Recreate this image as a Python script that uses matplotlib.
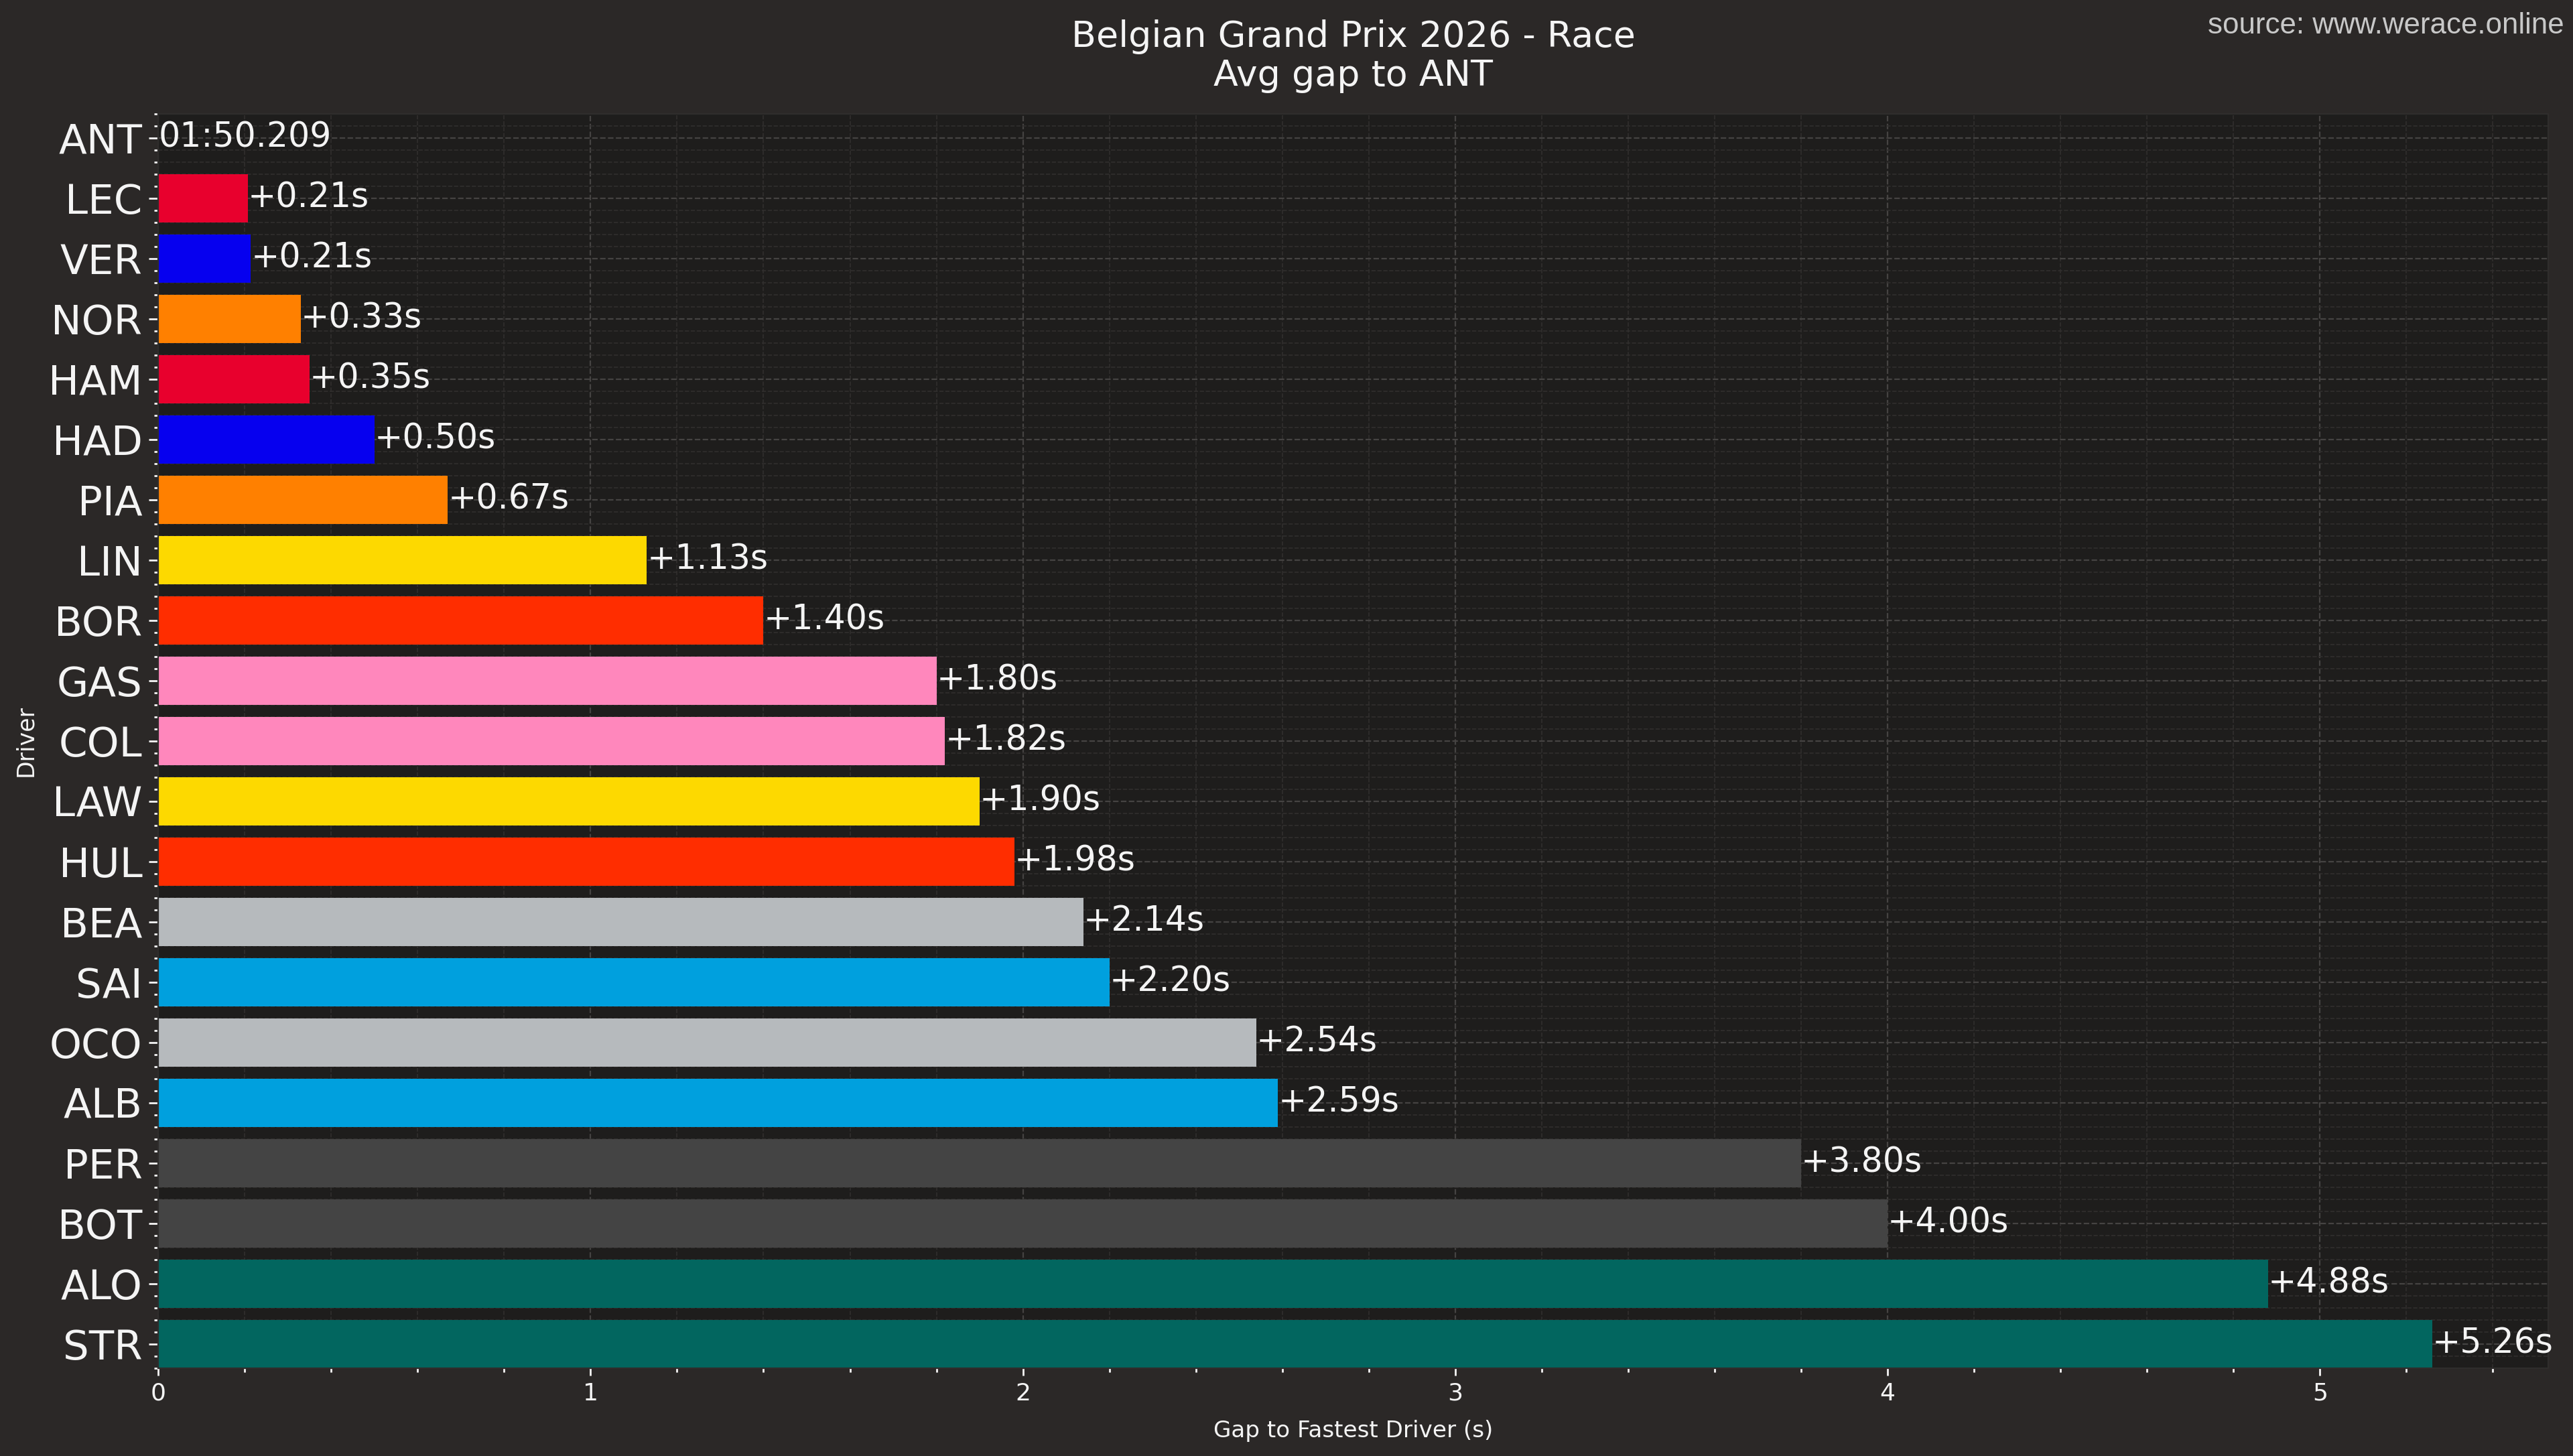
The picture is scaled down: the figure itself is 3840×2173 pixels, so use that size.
import matplotlib
matplotlib.use("Agg")
import matplotlib.pyplot as plt
from matplotlib.ticker import AutoMinorLocator, MultipleLocator

drivers = ["ANT", "LEC", "VER", "NOR", "HAM", "HAD", "PIA", "LIN", "BOR", "GAS",
           "COL", "LAW", "HUL", "BEA", "SAI", "OCO", "ALB", "PER", "BOT", "ALO", "STR"]
gaps = [0.0, 0.207, 0.214, 0.33, 0.35, 0.50, 0.67, 1.13, 1.40, 1.80,
        1.82, 1.90, 1.98, 2.14, 2.20, 2.54, 2.59, 3.80, 4.00, 4.88, 5.26]
colors = ["#E8002D", "#E8002D", "#0600EF", "#FF8000", "#E8002D", "#0600EF", "#FF8000",
          "#FDD900", "#FF2D00", "#FF87BC", "#FF87BC", "#FDD900", "#FF2D00", "#B6BABD",
          "#00A0DE", "#B6BABD", "#00A0DE", "#444444", "#444444", "#02665F", "#02665F"]
fastest_time = "01:50.209"
title_text = "Belgian Grand Prix 2026 - Race\nAvg gap to ANT"
source_text = "source: www.werace.online"

FIG_BG = "#2b2827"
AX_BG = "#1e1d1c"
TXT = "#f4f4f4"

fig = plt.figure(figsize=(19.2, 10.865), dpi=200, facecolor=FIG_BG)
ax = fig.add_axes([0.0615, 0.0603, 0.9289, 0.8615])
ax.set_facecolor(AX_BG)
ax.set_axisbelow(True)

ypos = list(range(len(drivers)))
ax.barh(ypos, gaps, height=0.8, color=colors, zorder=2)

for y, g in zip(ypos, gaps):
    if g == 0:
        lab = fastest_time
    else:
        lab = f"+{g:.2f}s"
    ax.text(g, y, lab, ha="left", va="center", color=TXT, fontsize=18.2, zorder=3)

ax.set_yticks(ypos)
ax.set_yticklabels(drivers)
ax.set_ylim(len(drivers) - 0.6, -0.4)
ax.set_xlim(0, max(gaps) * 1.051)
ax.xaxis.set_major_locator(MultipleLocator(1))
ax.xaxis.set_minor_locator(AutoMinorLocator(5))
ax.yaxis.set_minor_locator(AutoMinorLocator(5))

ax.tick_params(axis="y", which="major", labelsize=22, colors=TXT, length=5, width=1)
ax.tick_params(axis="x", which="major", labelsize=13, colors=TXT, length=4, width=1)
ax.tick_params(which="minor", colors=TXT, length=2, width=1)

ax.grid(which="major", color="#454342", linestyle="--", linewidth=0.8, zorder=0)
ax.grid(which="minor", color="#312f2e", linestyle="--", linewidth=0.6, zorder=0)

for s in ax.spines.values():
    s.set_color("#2f2d2c")
    s.set_linewidth(0.8)

ax.set_xlabel("Gap to Fastest Driver (s)", color=TXT, fontsize=12.3, labelpad=8)
ax.set_ylabel("Driver", color=TXT, fontsize=12.5, labelpad=6)
ax.set_title(title_text, color=TXT, fontsize=19.4, pad=15, linespacing=1.15)

fig.text(0.9966, 1 - 50 / 2173, source_text, ha="right", va="baseline",
         color="#c8c8c8", fontsize=15.8, family="Liberation Sans")

fig.savefig("out.png", dpi=200, facecolor=FIG_BG)
